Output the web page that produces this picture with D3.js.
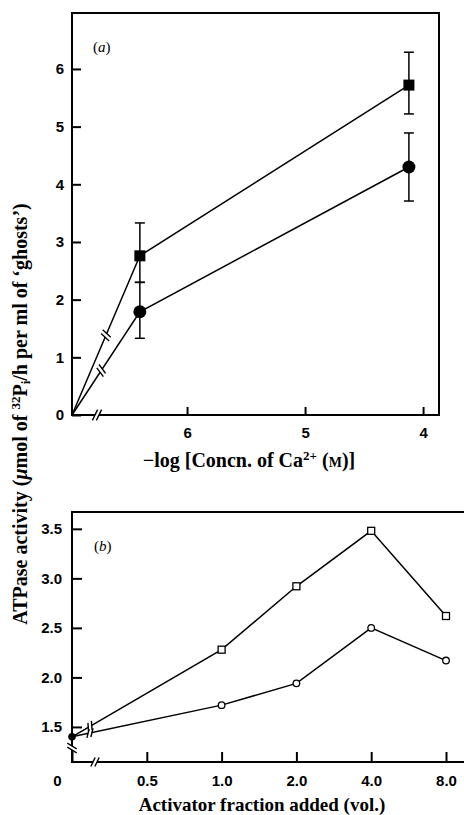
<!DOCTYPE html>
<html>
<head>
<meta charset="utf-8">
<script src="https://cdn.jsdelivr.net/npm/d3@7"></script>
<style>
  html, body { margin: 0; padding: 0; background: #fff; }
  svg { display: block; }
</style>
</head>
<body>
<svg id="chart" width="464" height="815"></svg>
<script>
// ---------- Panel (a) data ----------
const aConc = ["none", 6.4, 4.12];            // -log[Ca2+]; "none" = no Ca2+ (origin)
const aSquare = [0, 2.76, 5.72];
const aSquareErr = [null, [2.30, 3.33], [5.22, 6.29]];
const aCircle = [0, 1.79, 4.30];
const aCircleErr = [null, [1.33, 2.30], [3.71, 4.89]];
const aYTicks = [0, 1, 2, 3, 4, 5, 6];
const aXTicks = [6, 5, 4];

// ---------- Panel (b) data ----------
const bFractions = ["0", "0.5", "1.0", "2.0", "4.0", "8.0"];
const bPointCats = ["0", "1.0", "2.0", "4.0", "8.0"];
const bSquare = [1.40, 2.28, 2.92, 3.48, 2.62];
const bCircle = [1.40, 1.72, 1.94, 2.50, 2.17];
const bYTicks = [1.5, 2.0, 2.5, 3.0, 3.5];

const svg = d3.select("#chart");
const tickFont = "'Liberation Sans', Arial, sans-serif";
const titleFont = "'Liberation Serif', 'Times New Roman', serif";

// ---------- scales ----------
const xA = d3.scaleLinear().domain([6.975, 3.865]).range([72, 439]);
const yA = d3.scaleLinear().domain([0, 6.97]).range([415, 13]);
const xAPos = c => c === "none" ? xA(xA.domain()[0]) : xA(c);

const xB = d3.scalePoint().domain(bFractions).range([72, 446]);
const yB = d3.scaleLinear().domain([1.146, 3.67]).range([762, 512]);

function styleAxis(g) {
  g.select(".domain").remove();
  g.selectAll(".tick line").attr("stroke", "#000").attr("stroke-width", 2);
  g.selectAll(".tick text")
    .attr("font-family", tickFont).attr("font-weight", "bold")
    .attr("font-size", 15).attr("fill", "#000");
}

// break mark: two parallel slashes across a segment with a small gap
function breakMark(g, p, ang, opts) {
  const gap = opts.gap || 4, len = opts.len || 11, tilt = opts.tilt || 0;
  const ux = Math.cos(ang), uy = Math.sin(ang);
  const na = ang + Math.PI / 2 + tilt;
  const nx = Math.cos(na), ny = Math.sin(na);
  g.append("line")
    .attr("x1", p[0] - ux * gap / 2).attr("y1", p[1] - uy * gap / 2)
    .attr("x2", p[0] + ux * gap / 2).attr("y2", p[1] + uy * gap / 2)
    .attr("stroke", "#fff").attr("stroke-width", opts.cover || 4);
  [-1, 1].forEach(s => {
    const cx = p[0] + s * ux * gap / 2, cy = p[1] + s * uy * gap / 2;
    g.append("line")
      .attr("x1", cx - nx * len / 2).attr("y1", cy - ny * len / 2)
      .attr("x2", cx + nx * len / 2).attr("y2", cy + ny * len / 2)
      .attr("stroke", "#000").attr("stroke-width", 1.4);
  });
}

// ================= Panel (a) =================
const gA = svg.append("g");

gA.append("g").attr("transform", `translate(${xA.range()[0]},0)`)
  .call(d3.axisLeft(yA).tickValues(aYTicks).tickSize(-9).tickPadding(8).tickFormat(d3.format("d")))
  .call(styleAxis);

gA.append("g").attr("transform", `translate(0,${yA.range()[0]})`)
  .call(d3.axisBottom(xA).tickValues(aXTicks).tickSize(-8).tickPadding(12).tickFormat(d3.format("d")))
  .call(styleAxis);

// frame
gA.append("rect")
  .attr("x", xA.range()[0]).attr("y", yA.range()[1])
  .attr("width", xA.range()[1] - xA.range()[0])
  .attr("height", yA.range()[0] - yA.range()[1])
  .attr("fill", "none").attr("stroke", "#000").attr("stroke-width", 2);

// x-axis break
breakMark(gA, [97, yA(0)], 0, { gap: 4, len: 12, tilt: 0.45, cover: 4 });

function seriesA(vals, errs, marker, breakT) {
  const pts = aConc.map((c, i) => [xAPos(c), yA(vals[i])]);
  gA.append("path").attr("d", d3.line()(pts))
    .attr("fill", "none").attr("stroke", "#000").attr("stroke-width", 1.5);
  const p0 = pts[0], p1 = pts[1];
  const bp = [p0[0] + (p1[0] - p0[0]) * breakT, p0[1] + (p1[1] - p0[1]) * breakT];
  breakMark(gA, bp, Math.atan2(p1[1] - p0[1], p1[0] - p0[0]), { gap: 4, len: 11, tilt: 0.35, cover: 4 });
  errs.forEach((e, i) => {
    if (!e) return;
    const x = xAPos(aConc[i]);
    gA.append("line").attr("x1", x).attr("x2", x).attr("y1", yA(e[0])).attr("y2", yA(e[1]))
      .attr("stroke", "#000").attr("stroke-width", 1.5);
    e.forEach(v => gA.append("line").attr("x1", x - 5).attr("x2", x + 5)
      .attr("y1", yA(v)).attr("y2", yA(v)).attr("stroke", "#000").attr("stroke-width", 1.5));
  });
  pts.slice(1).forEach(p => {
    if (marker === "square") {
      gA.append("rect").attr("x", p[0] - 5.5).attr("y", p[1] - 5.5)
        .attr("width", 11).attr("height", 11).attr("fill", "#000");
    } else {
      gA.append("circle").attr("cx", p[0]).attr("cy", p[1]).attr("r", 6.5).attr("fill", "#000");
    }
  });
}
seriesA(aSquare, aSquareErr, "square", 0.5);
seriesA(aCircle, aCircleErr, "circle", 0.43);

const la = gA.append("text").attr("x", 93).attr("y", 52)
  .attr("font-family", titleFont).attr("font-size", 15).attr("fill", "#000");
la.append("tspan").text("(");
la.append("tspan").attr("font-style", "italic").text("a");
la.append("tspan").text(")");

const ta = gA.append("text").attr("x", 249).attr("y", 467).attr("text-anchor", "middle")
  .attr("font-family", titleFont).attr("font-weight", "bold").attr("font-size", 20).attr("fill", "#000");
ta.append("tspan").text("\u2212log [Concn. of Ca");
ta.append("tspan").attr("font-size", 13).attr("dy", -7).text("2+");
ta.append("tspan").attr("dy", 7).text("  (");
ta.append("tspan").attr("font-size", 14).text("M");
ta.append("tspan").text(")]");

// ================= Panel (b) =================
const gB = svg.append("g");

gB.append("g").attr("transform", `translate(${xB.range()[0]},0)`)
  .call(d3.axisLeft(yB).tickValues(bYTicks).tickSize(-10).tickPadding(10).tickFormat(d3.format(".1f")))
  .call(styleAxis);

const xAxisB = gB.append("g").attr("transform", `translate(0,${yB.range()[0]})`)
  .call(d3.axisBottom(xB).tickSize(-10).tickPadding(13))
  .call(styleAxis);
xAxisB.selectAll(".tick").filter(d => d === "0").select("text").attr("x", -15);

const bx0 = xB.range()[0];
gB.append("line").attr("x1", bx0).attr("x2", bx0).attr("y1", yB.range()[1]).attr("y2", yB.range()[0])
  .attr("stroke", "#000").attr("stroke-width", 2);
gB.append("line").attr("x1", bx0 - 1).attr("x2", 470).attr("y1", yB.range()[0]).attr("y2", yB.range()[0])
  .attr("stroke", "#000").attr("stroke-width", 2);
gB.append("line").attr("x1", bx0 - 1).attr("x2", 470).attr("y1", yB.range()[1]).attr("y2", yB.range()[1])
  .attr("stroke", "#000").attr("stroke-width", 2);

breakMark(gB, [bx0, 748], Math.PI / 2, { gap: 4, len: 11, tilt: 0.55, cover: 4 });
breakMark(gB, [95, yB.range()[0]], 0, { gap: 4, len: 10, tilt: 0.45, cover: 4 });

function seriesB(vals, marker) {
  const pts = bPointCats.map((c, i) => [xB(c), yB(vals[i])]);
  gB.append("path").attr("d", d3.line()(pts))
    .attr("fill", "none").attr("stroke", "#000").attr("stroke-width", 1.5);
  const p0 = pts[0], p1 = pts[1];
  const t = (90 - p0[0]) / (p1[0] - p0[0]);
  const bp = [p0[0] + (p1[0] - p0[0]) * t, p0[1] + (p1[1] - p0[1]) * t];
  breakMark(gB, bp, Math.atan2(p1[1] - p0[1], p1[0] - p0[0]), { gap: 4, len: 9, tilt: 0.45, cover: 4 });
  pts.slice(1).forEach(p => {
    if (marker === "square") {
      gB.append("rect").attr("x", p[0] - 3.5).attr("y", p[1] - 3.5).attr("width", 7).attr("height", 7)
        .attr("fill", "#fff").attr("stroke", "#000").attr("stroke-width", 1.3);
    } else {
      gB.append("circle").attr("cx", p[0]).attr("cy", p[1]).attr("r", 3.3)
        .attr("fill", "#fff").attr("stroke", "#000").attr("stroke-width", 1.3);
    }
  });
  return pts;
}
const sq = seriesB(bSquare, "square");
seriesB(bCircle, "circle");
gB.append("circle").attr("cx", sq[0][0]).attr("cy", sq[0][1]).attr("r", 3.8).attr("fill", "#000");

const lb = gB.append("text").attr("x", 94).attr("y", 551)
  .attr("font-family", titleFont).attr("font-size", 15).attr("fill", "#000");
lb.append("tspan").text("(");
lb.append("tspan").attr("font-style", "italic").text("b");
lb.append("tspan").text(")");

gB.append("text").attr("x", 262).attr("y", 811).attr("text-anchor", "middle")
  .attr("font-family", titleFont).attr("font-weight", "bold").attr("font-size", 19).attr("fill", "#000")
  .text("Activator fraction added (vol.)");

// ================= shared y title =================
const yt = svg.append("text")
  .attr("transform", "translate(27,414) rotate(-90)")
  .attr("text-anchor", "middle")
  .attr("font-family", titleFont).attr("font-weight", "bold").attr("font-size", 20).attr("fill", "#000");
yt.append("tspan").text("ATPase activity (");
yt.append("tspan").attr("font-style", "italic").text("\u03bc");
yt.append("tspan").text("mol of ");
yt.append("tspan").attr("font-size", 13).attr("dy", -7).text("32");
yt.append("tspan").attr("dy", 7).text("P");
yt.append("tspan").attr("font-size", 13).attr("dy", 3).text("i");
yt.append("tspan").attr("dy", -3).text("/h per ml of \u2018ghosts\u2019)");
</script>
</body>
</html>
